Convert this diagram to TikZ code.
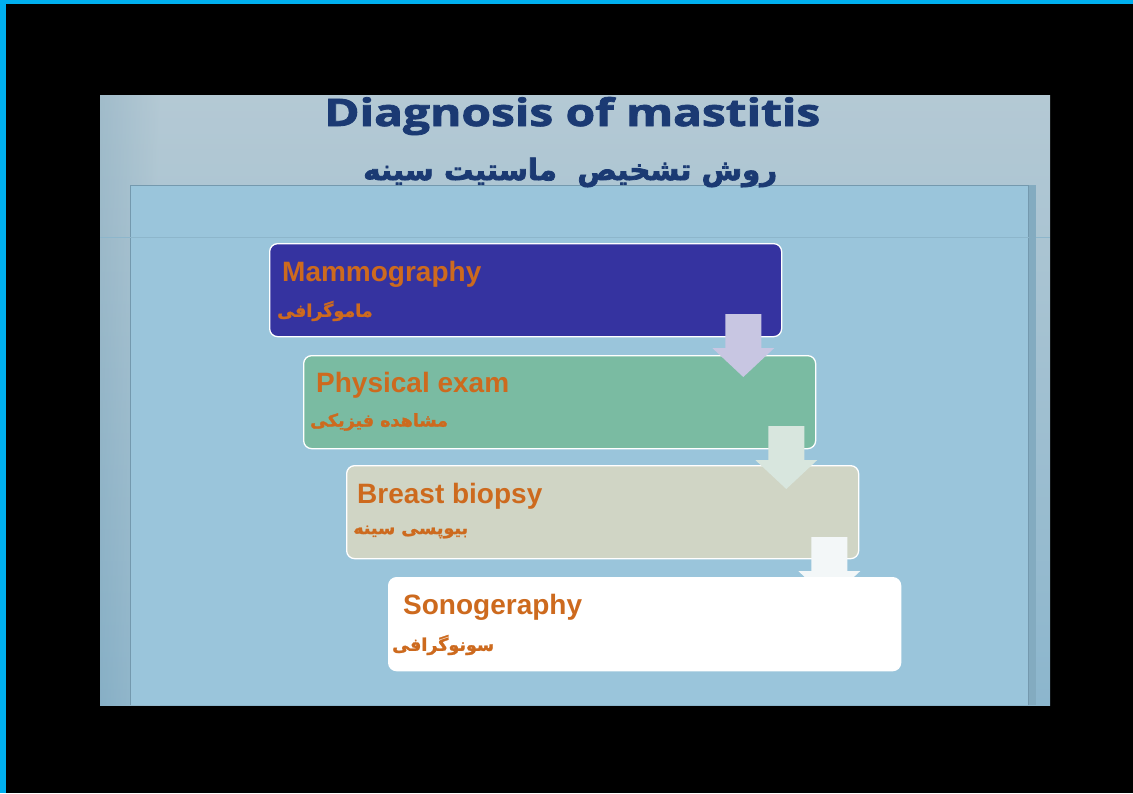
\documentclass[tikz,border=0pt]{standalone}
\usepackage{graphicx}
\usepackage{fontspec}
\setmainfont{Liberation Sans}
\newfontfamily\titlefont[FakeBold=2]{Open Sans}
\newfontfamily\fa[Script=Arabic,FakeBold=1.5]{DejaVu Sans}
\newfontfamily\fatitle[Script=Arabic,FakeBold=2.5]{DejaVu Sans}
\TeXXeTstate=1
\usetikzlibrary{calc}
\definecolor{bordblue}{HTML}{00B0F0}
\definecolor{slidetop}{HTML}{B4C9D4}
\definecolor{slidebot}{HTML}{8CB6CD}
\definecolor{panelfill}{HTML}{9AC5DB}
\definecolor{panelline}{HTML}{7499AE}
\definecolor{titleblue}{HTML}{1B3A73}
\definecolor{cA}{HTML}{3533A0}
\definecolor{cB}{HTML}{7ABBA2}
\definecolor{cC}{HTML}{D0D5C5}
\definecolor{cD}{HTML}{FFFFFF}
\definecolor{arA}{HTML}{C8C6E2}
\definecolor{arB}{HTML}{D8E6DE}
\definecolor{arC}{HTML}{F3F7F8}
\definecolor{lab}{HTML}{CD6A1E}
\begin{document}
\begin{tikzpicture}[x=1pt,y=-1pt,
  stepbox/.style={draw=white, line width=1.3pt, rounded corners=8pt,
    minimum width=512pt, minimum height=93pt, anchor=north west, inner sep=0pt},
  enlab/.style={anchor=base west, inner sep=0pt, text=lab,
    font=\fontsize{28}{31}\selectfont\bfseries},
  falab/.style={anchor=west, inner sep=0pt, text=lab,
    font=\fa\bfseries\fontsize{17.5}{20}\selectfont},
  blockarrow/.pic={\fill[pic actions] (-18,0) -- (18,0) -- (18,34) -- (31,34)
    -- (0,63) -- (-31,34) -- (-18,34) -- cycle;}]
\useasboundingbox (0,0) rectangle (1133,793);
\fill[black] (0,0) rectangle (1133,793);
\fill[bordblue] (0,0) rectangle (1133,4);
\fill[bordblue] (0,0) rectangle (6,793);
% slide
\shade[top color=slidetop, bottom color=slidebot] (100,95) rectangle (1050,705);
\shade[left color=slidebot!90!black, right color=slidetop, opacity=0.35] (100,95) rectangle (160,705);
\fill[panelfill] (130,185) rectangle (1028,705);
\draw[panelline, line width=1pt] (130,705) -- (130,185) -- (1028,185) -- (1028,705);
\draw[panelline!35!panelfill, line width=0.8pt] (100,237) -- (1050,237);
\fill[panelline!60!panelfill] (1029,185) rectangle (1036,705);
% title
\node[anchor=base west, inner sep=0pt, text=titleblue] (title) at (324,126)
  {\resizebox{496pt}{29pt}{\titlefont\bfseries Diagnosis of mastitis}};
\node[anchor=base west, inner sep=0pt, text=titleblue] (subtitle) at (363,180)
  {\resizebox{414pt}{!}{\fatitle\bfseries\beginR روش تشخیص\ \ ماستیت سینه\endR}};
% boxes
\node[stepbox, fill=cA] (b1) at (269,243) {};
\node[stepbox, fill=cB] (b2) at (303,355) {};
\coordinate (a1) at ($(b1.north east)+(-39,71)$);
\pic[fill=arA] at (a1) {blockarrow};
\node[stepbox, fill=cC] (b3) at (346,465) {};
\coordinate (a2) at ($(b2.north east)+(-30,71)$);
\pic[fill=arB] at (a2) {blockarrow};
\coordinate (a3) at ($(b3.north east)+(-30,72)$);
\pic[fill=arC] at (a3) {blockarrow};
\node[stepbox, fill=cD] (b4) at (388,577) {};
% labels
\node[enlab] (t1) at (282,281) {Mammography};
\node[falab] (f1) at (277,311) {\beginR ماموگرافی\endR};
\node[enlab] (t2) at (316,392) {Physical exam};
\node[falab] (f2) at (310,422) {\beginR مشاهده فیزیکی\endR};
\node[enlab] (t3) at (357,503) {Breast biopsy};
\node[falab] (f3) at (353,532) {\beginR بیوپسی سینه\endR};
\node[enlab] (t4) at (403,614) {Sonogeraphy};
\node[falab] (f4) at (392,645) {\beginR سونوگرافی\endR};
\end{tikzpicture}
\end{document}
